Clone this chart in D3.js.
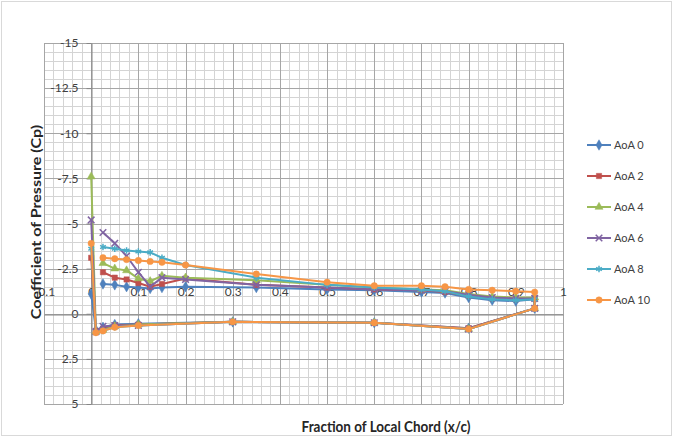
<!DOCTYPE html>
<html>
<head>
<meta charset="utf-8">
<script src="https://cdn.jsdelivr.net/npm/d3@7"></script>
<style>
  html, body { margin: 0; padding: 0; background: #fff; }
  svg { display: block; font-family: Lato, "Open Sans", sans-serif; }
</style>
</head>
<body>
<svg id="chart" width="673" height="437"></svg>
<script>
// Chordwise pressure-tap stations (x/c); the leading-edge tap sits at x/c = 0
const xLeadingEdge = 0;
const xUpper = [0.025, 0.05, 0.075, 0.1, 0.125, 0.15, 0.2, 0.35, 0.5, 0.6, 0.7, 0.75, 0.8, 0.85, 0.9, 0.94];
const xLower = [0.01, 0.025, 0.05, 0.1, 0.3, 0.6, 0.8, 0.94];

// Pressure coefficient at the leading-edge tap, one value per angle of attack
const cpLeadingEdge = [-1.1, -3.1, -7.6, -5.2, -3.6, -3.9];

// Upper-surface Cp, one array per angle of attack
const cpUpperAoA0  = [-1.65, -1.6, -1.5, -1.45, -1.4, -1.45, -1.5, -1.45, -1.35, -1.3, -1.2, -1.15, -0.9, -0.75, -0.7, -0.8];
const cpUpperAoA2  = [-2.3, -2.0, -1.9, -1.7, -1.5, -1.65, -1.95, -1.6, -1.45, -1.35, -1.3, -1.2, -1.0, -0.85, -0.8, -0.85];
const cpUpperAoA4  = [-2.8, -2.5, -2.4, -1.95, -1.8, -2.1, -2.0, -1.85, -1.6, -1.45, -1.35, -1.3, -1.1, -0.95, -0.9, -0.9];
const cpUpperAoA6  = [-4.5, -3.9, -3.2, -2.3, -1.5, -2.0, -1.9, -1.6, -1.45, -1.35, -1.3, -1.25, -1.05, -0.9, -0.85, -0.85];
const cpUpperAoA8  = [-3.7, -3.6, -3.5, -3.45, -3.4, -3.1, -2.7, -2.0, -1.6, -1.45, -1.35, -1.25, -0.95, -0.8, -0.75, -0.8];
const cpUpperAoA10 = [-3.1, -3.05, -3.0, -2.95, -2.9, -2.85, -2.7, -2.2, -1.75, -1.55, -1.55, -1.5, -1.35, -1.3, -1.25, -1.2];

// Lower-surface Cp, one array per angle of attack
const cpLowerAoA0  = [0.9, 0.75, 0.6, 0.55, 0.45, 0.5, 0.8, -0.3];
const cpLowerAoA2  = [0.95, 0.85, 0.65, 0.6, 0.45, 0.5, 0.8, -0.3];
const cpLowerAoA4  = [1.0, 0.9, 0.7, 0.6, 0.45, 0.5, 0.85, -0.3];
const cpLowerAoA6  = [1.0, 0.7, 0.65, 0.65, 0.45, 0.5, 0.85, -0.3];
const cpLowerAoA8  = [1.05, 0.95, 0.75, 0.65, 0.45, 0.5, 0.85, -0.3];
const cpLowerAoA10 = [1.05, 0.95, 0.75, 0.65, 0.45, 0.5, 0.85, -0.3];

const seriesNames = ["AoA 0", "AoA 2", "AoA 4", "AoA 6", "AoA 8", "AoA 10"];
const upperValues = [cpUpperAoA0, cpUpperAoA2, cpUpperAoA4, cpUpperAoA6, cpUpperAoA8, cpUpperAoA10];
const lowerValues = [cpLowerAoA0, cpLowerAoA2, cpLowerAoA4, cpLowerAoA6, cpLowerAoA8, cpLowerAoA10];

// Axis ticks
const xTicks = [-0.1, 0, 0.1, 0.2, 0.3, 0.4, 0.5, 0.6, 0.7, 0.8, 0.9, 1];
const yTicks = [-15, -12.5, -10, -7.5, -5, -2.5, 0, 2.5, 5];

const colors = ["#4F81BD", "#C0504D", "#9BBB59", "#8064A2", "#4BACC6", "#F79646"];
const symbols = [d3.symbolDiamond, d3.symbolSquare, d3.symbolTriangle, d3.symbolTimes, d3.symbolAsterisk, d3.symbolCircle];
const symbolSizes = [32, 28, 28, 30, 30, 32];
const strokeSymbol = [false, false, false, true, true, false];

const svg = d3.select("#chart");

// chart frame
svg.append("rect").attr("x", 1.5).attr("y", 1.5).attr("width", 670).attr("height", 434)
  .attr("fill", "#fff").attr("stroke", "#d9d9d9");

const x = d3.scaleLinear().domain([-0.1, 1]).range([44, 563]);
const y = d3.scaleLinear().domain([-15, 5]).range([43, 404]);

// gridlines: minor then major
const grid = svg.append("g");
const xMinor = d3.range(0, 56).map(i => -0.1 + i * 0.02);
const yMinor = d3.range(0, 41).map(i => -15 + i * 0.5);
grid.selectAll(".xm").data(xMinor).join("line")
  .attr("x1", d => Math.round(x(d)) + 0.5).attr("x2", d => Math.round(x(d)) + 0.5)
  .attr("y1", y(-15)).attr("y2", y(5)).attr("stroke", "#d4d4d4").attr("stroke-width", 1);
grid.selectAll(".ym").data(yMinor).join("line")
  .attr("y1", d => Math.round(y(d)) + 0.5).attr("y2", d => Math.round(y(d)) + 0.5)
  .attr("x1", x(-0.1)).attr("x2", x(1)).attr("stroke", "#d4d4d4").attr("stroke-width", 1);
grid.selectAll(".xM").data(xTicks).join("line")
  .attr("x1", d => Math.round(x(d)) + 0.5).attr("x2", d => Math.round(x(d)) + 0.5)
  .attr("y1", y(-15)).attr("y2", y(5)).attr("stroke", "#a6a6a6").attr("stroke-width", 1);
grid.selectAll(".yM").data(yTicks).join("line")
  .attr("y1", d => Math.round(y(d)) + 0.5).attr("y2", d => Math.round(y(d)) + 0.5)
  .attr("x1", x(-0.1)).attr("x2", x(1)).attr("stroke", "#a6a6a6").attr("stroke-width", 1);

// axes crossing at the origin; the Cp axis runs in reverse (suction up)
const fmt = d => String(d);
const yAxis = svg.append("g")
  .attr("transform", `translate(${Math.round(x(0)) + 0.5},0)`)
  .call(d3.axisLeft(y).tickValues(yTicks).tickFormat(fmt).tickSize(5).tickSizeOuter(0).tickPadding(8));
const xAxis = svg.append("g")
  .attr("transform", `translate(0,${Math.round(y(0)) + 0.5})`)
  .call(d3.axisTop(x).tickValues(xTicks).tickFormat(fmt).tickSize(0).tickSizeOuter(0).tickPadding(19));
[xAxis, yAxis].forEach(g => {
  g.select(".domain").attr("stroke", "#868686");
  g.selectAll(".tick line").attr("stroke", "#868686");
  g.selectAll(".tick text").attr("fill", "#404040").style("font-size", "12px")
    .style("font-family", "Lato, 'Open Sans', sans-serif");
});

// series: upper surface LE->TE, lower surface TE->LE, then up to the leading-edge tap
const line = d3.line().x(d => x(d[0])).y(d => y(d[1]));
const plot = svg.append("g");
seriesNames.forEach((name, i) => {
  const up = xUpper.map((xv, k) => [xv, upperValues[i][k]]);
  const lo = xLower.map((xv, k) => [xv, lowerValues[i][k]]);
  const le = [xLeadingEdge, cpLeadingEdge[i]];
  const pts = up.concat(lo.slice().reverse(), [le]);
  const g = plot.append("g");
  g.append("path").attr("d", line(pts)).attr("fill", "none")
    .attr("stroke", colors[i]).attr("stroke-width", 2).attr("stroke-linejoin", "round");
  g.selectAll("path.m").data(pts).join("path").attr("class", "m")
    .attr("transform", d => `translate(${x(d[0])},${y(d[1])})`)
    .attr("d", d3.symbol().type(symbols[i]).size(symbolSizes[i]))
    .attr("fill", strokeSymbol[i] ? "none" : colors[i])
    .attr("stroke", colors[i]).attr("stroke-width", strokeSymbol[i] ? 1.5 : 0.5);
});

// legend
const legend = svg.append("g").attr("transform", "translate(587,145)");
seriesNames.forEach((name, i) => {
  const g = legend.append("g").attr("transform", `translate(0,${i * 31})`);
  g.append("line").attr("x1", 0).attr("x2", 24).attr("y1", 0).attr("y2", 0)
    .attr("stroke", colors[i]).attr("stroke-width", 2);
  g.append("path").attr("transform", "translate(12,0)")
    .attr("d", d3.symbol().type(symbols[i]).size(symbolSizes[i]))
    .attr("fill", strokeSymbol[i] ? "none" : colors[i])
    .attr("stroke", colors[i]).attr("stroke-width", strokeSymbol[i] ? 1.5 : 0.5);
  g.append("text").attr("x", 27).attr("y", 0).attr("dy", "0.35em")
    .attr("fill", "#404040").style("font-size", "11px").text(name);
});

// axis titles (slightly tall lettering)
svg.append("text").attr("transform", "translate(386,432) scale(1,1.15)").attr("text-anchor", "middle")
  .attr("fill", "#262626").style("font-size", "13.5px").style("font-weight", "bold")
  .text("Fraction of Local Chord (x/c)");
svg.append("text").attr("transform", "translate(41,222) rotate(-90) scale(1.15,1)").attr("text-anchor", "middle")
  .attr("fill", "#262626").style("font-size", "14px").style("font-weight", "bold")
  .text("Coefficient of Pressure (Cp)");
</script>
</body>
</html>
